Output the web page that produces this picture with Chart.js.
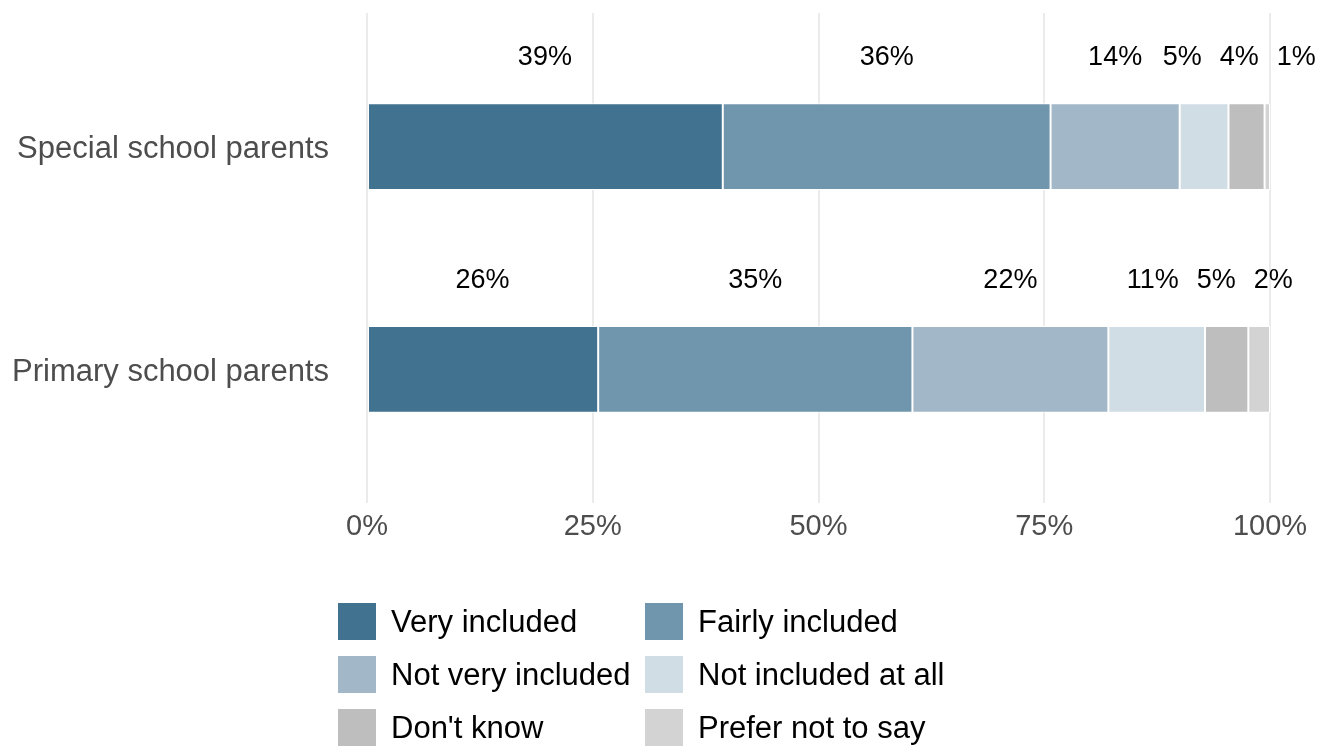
<!DOCTYPE html>
<html>
<head>
<meta charset="utf-8">
<script src="https://cdn.jsdelivr.net/npm/chart.js@4.4.1/dist/chart.umd.min.js"></script>
<style>
  html, body { margin: 0; padding: 0; background: #fff; }
  #wrap { position: relative; width: 1325px; height: 746px; overflow: hidden; }
  #legend {
    position: absolute; left: 338px; top: 603px;
    display: grid; grid-template-columns: 307px 320px; grid-auto-rows: 53px;
    font-family: "Liberation Sans", Arial, sans-serif; font-size: 31px; color: #000;
  }
  .item { display: flex; align-items: flex-start; white-space: nowrap; }
  .box { width: 38px; height: 37px; margin-right: 15px; flex: none; }
  .item span { line-height: 37px; }
</style>
</head>
<body>
<div id="wrap">
  <canvas id="chart" width="1325" height="746"></canvas>
  <div id="legend"></div>
</div>
<script>
var groups = ['Special school parents', 'Primary school parents'];
var responses = ['Very included', 'Fairly included', 'Not very included', 'Not included at all', "Don't know", 'Prefer not to say'];
var colours = ['#41728f', '#7096ad', '#a2b8c8', '#d0dde5', '#bebebe', '#d3d3d3'];
// share of each response, one value per group (special, primary)
var veryIncluded = [39.4, 25.6];
var fairlyIncluded = [36.3, 34.8];
var notVeryIncluded = [14.3, 21.7];
var notIncludedAtAll = [5.4, 10.7];
var dontKnow = [4.0, 4.8];
var preferNotToSay = [0.6, 2.4];
var xTicks = [0, 25, 50, 75, 100];

var series = [veryIncluded, fairlyIncluded, notVeryIncluded, notIncludedAtAll, dontKnow, preferNotToSay];
var font = '"Liberation Sans", Arial, sans-serif';

var datasets = series.map(function(vals, k){
    return {
        label: responses[k],
        stack: 'all',
        backgroundColor: colours[k],
        borderColor: '#ffffff',
        borderWidth: 1,
        borderSkipped: false,
        categoryPercentage: 1,
        barPercentage: 0.39,
        data: vals.map(function(v, i){ return {x: v, y: i}; })
    };
});

// percentage labels above each bar, nudged apart so they don't overlap
var pctLabels = {
    id: 'pctLabels',
    afterDatasetsDraw: function(chart){
        var ctx = chart.ctx;
        var xs = chart.scales.x, ys = chart.scales.y;
        ctx.save();
        ctx.font = '27px ' + font;
        ctx.fillStyle = '#000';
        ctx.textAlign = 'center';
        ctx.textBaseline = 'middle';
        for (var i = 0; i < groups.length; i++) {
            var cum = 0, items = [];
            for (var k = 0; k < series.length; k++) {
                var v = series[k][i];
                var txt = Math.round(v) + '%';
                items.push({ x: xs.getPixelForValue(cum + v / 2), w: ctx.measureText(txt).width, txt: txt });
                cum += v;
            }
            var pad = 18;
            for (var it = 0; it < 200; it++) {
                for (var j = 0; j < items.length - 1; j++) {
                    var a = items[j], b = items[j + 1];
                    var need = (a.w + b.w) / 2 + pad;
                    var gap = b.x - a.x;
                    if (gap < need) {
                        var d = (need - gap) / 2;
                        a.x -= d; b.x += d;
                    }
                }
            }
            var y = ys.getPixelForValue(i - 0.4);
            items.forEach(function(o){ ctx.fillText(o.txt, o.x, y); });
        }
        ctx.restore();
    }
};

new Chart(document.getElementById('chart'), {
    type: 'bar',
    data: { datasets: datasets },
    options: {
        indexAxis: 'y',
        responsive: false,
        animation: false,
        layout: { padding: { top: 13, right: 55, left: 0, bottom: 0 } },
        plugins: { legend: { display: false }, tooltip: { enabled: false } },
        scales: {
            x: {
                type: 'linear', stacked: true, min: 0, max: 100,
                border: { display: false },
                grid: { color: '#ebebeb', lineWidth: 2, drawTicks: false },
                afterBuildTicks: function(s){ s.ticks = xTicks.map(function(v){ return {value: v}; }); },
                afterFit: function(s){ s.height = 243; s.paddingLeft = 0; s.paddingRight = 0; },
                ticks: {
                    padding: 7, color: '#4d4d4d', font: { family: font, size: 29 },
                    maxRotation: 0,
                    callback: function(v){ return v + '%'; }
                }
            },
            y: {
                type: 'linear', offset: false, reverse: true, min: -0.6, max: 1.6,
                border: { display: false },
                grid: { display: false, drawTicks: false },
                afterBuildTicks: function(s){ s.ticks = groups.map(function(g, i){ return {value: i}; }); },
                afterFit: function(s){ s.width = 367; s.paddingTop = 0; s.paddingBottom = 0; },
                ticks: {
                    padding: 38, labelOffset: 3, color: '#4d4d4d', font: { family: font, size: 31 },
                    callback: function(v){ return groups[v]; }
                }
            }
        }
    },
    plugins: [pctLabels]
});

var legend = document.getElementById('legend');
responses.forEach(function(r, k){
    var el = document.createElement('div');
    el.className = 'item';
    el.innerHTML = '<div class="box" style="background:' + colours[k] + '"></div><span>' + r + '</span>';
    legend.appendChild(el);
});
</script>
</body>
</html>
